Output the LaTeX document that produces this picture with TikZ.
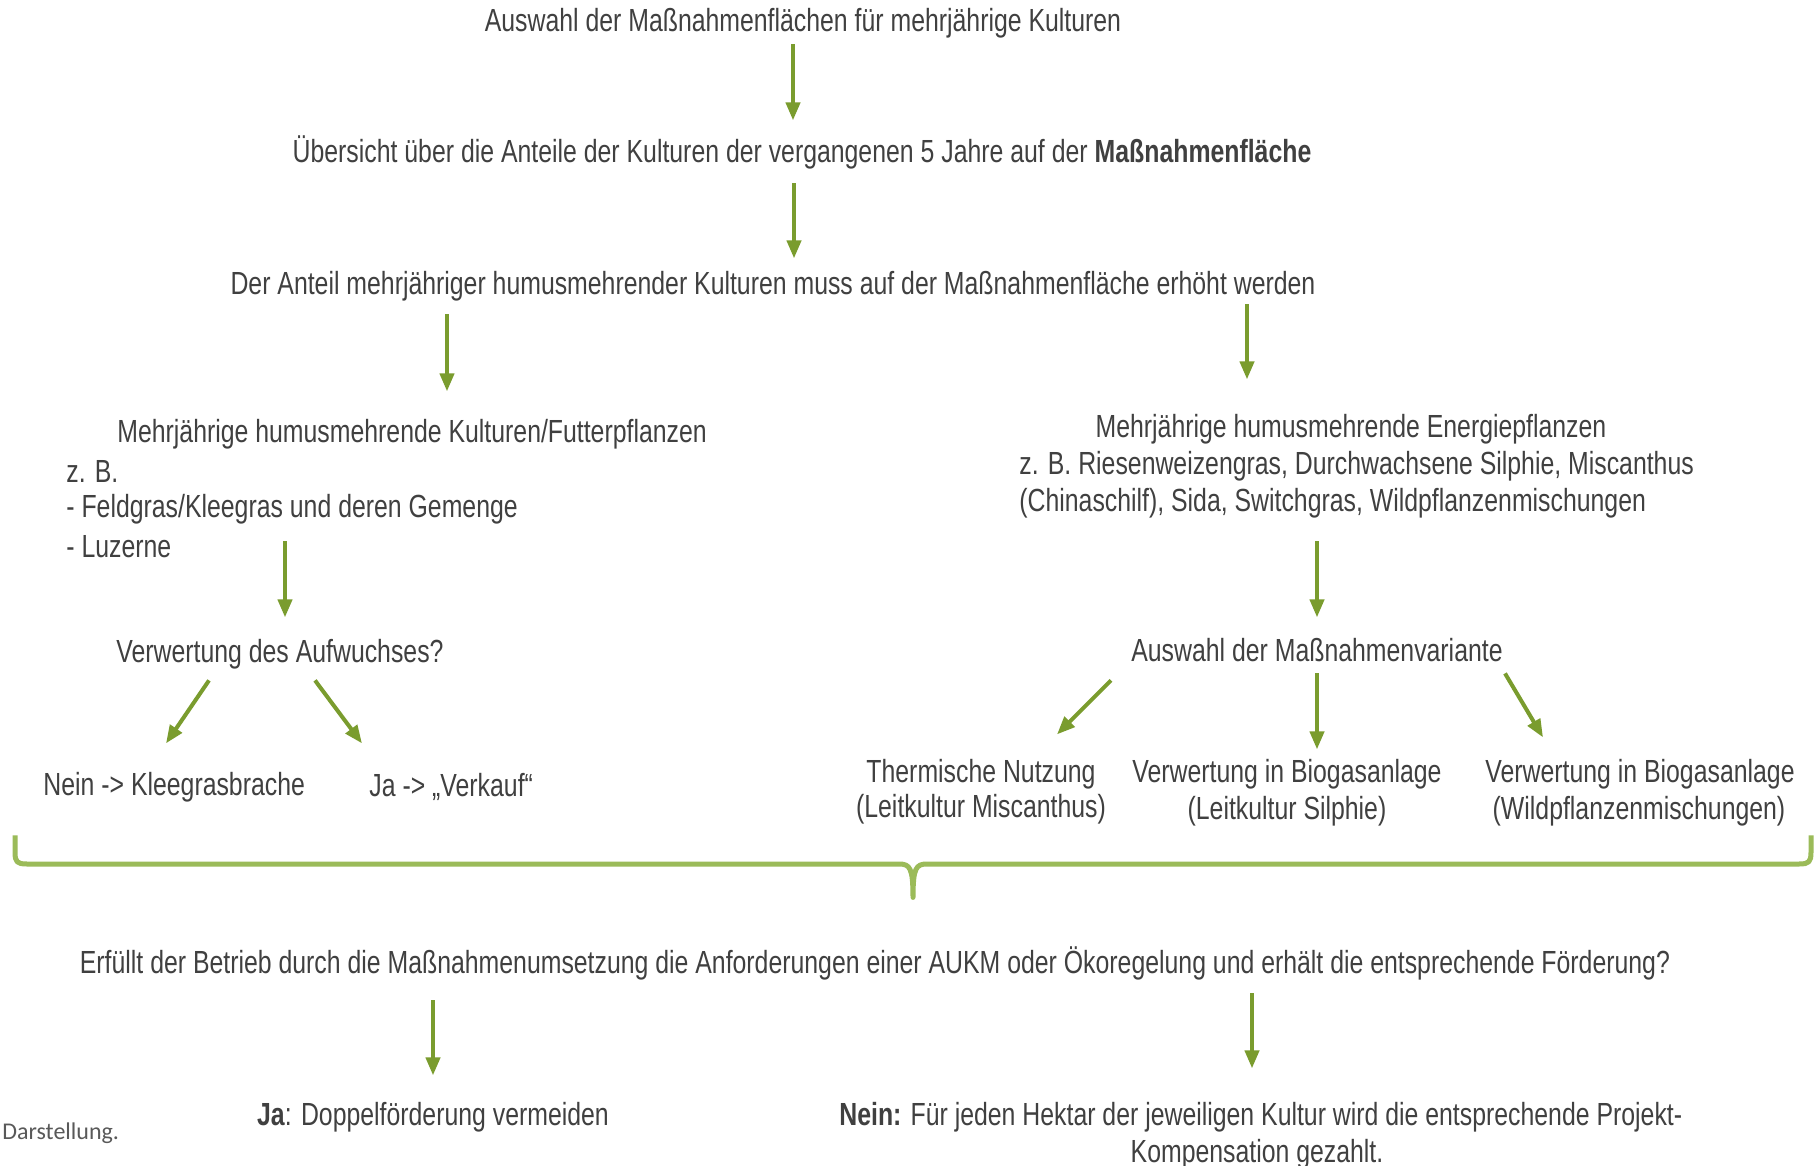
\documentclass[tikz,border=0pt]{standalone}
\usepackage{fontspec}
\setmainfont[FakeStretch=0.776]{Liberation Sans}
\newfontfamily\calfont{Carlito}
\usetikzlibrary{arrows.meta}
\definecolor{txt}{HTML}{404040}
\definecolor{arr}{HTML}{7A9C2E}
\definecolor{brc}{HTML}{9BBB59}
\definecolor{src}{HTML}{595959}
\begin{document}
\begin{tikzpicture}[x=0.5pt,y=-0.5pt,
  every node/.style={text=txt,font=\fontsize{16}{19}\selectfont,inner sep=0pt,yshift=-1.2pt},
  lab/.style={},
  labw/.style={anchor=west},
  flow/.style={draw=arr,line width=2pt,-{Triangle[width=7pt,length=9pt]}},
  bracestyle/.style={draw=brc,line width=2.5pt,line join=round}]
\useasboundingbox (0,0) rectangle (1815,1166);
\fill[white] (0,0) rectangle (1815,1166);

% texts
\node[lab] (t1) at (803,21) {Auswahl der Maßnahmenflächen für mehrjährige Kulturen};
\node[lab] (t2) at (802,150) {Übersicht über die Anteile der Kulturen der vergangenen 5 Jahre auf der \textbf{Maßnahmenfläche}};
\node[lab] (t3) at (773,284) {Der Anteil mehrjähriger humusmehrender Kulturen muss auf der Maßnahmenfläche erhöht werden};

\node[labw] (l1) at (117,432) {Mehrjährige humusmehrende Kulturen/Futterpflanzen};
\node[labw] (l2) at (66,469) {z. B.};
\node[labw] (l3) at (66,507) {- Feldgras/Kleegras und deren Gemenge};
\node[labw] (l4) at (66,544) {- Luzerne};
\node[labw] (q1) at (116,652) {Verwertung des Aufwuchses?};
\node[labw] (nein1) at (43,785) {Nein -> Kleegrasbrache};
\node[labw] (ja1) at (369,785) {Ja -> „Verkauf“};

\node[lab] (r1) at (1351,427) {Mehrjährige humusmehrende Energiepflanzen};
\node[labw] (r2) at (1019,464) {z. B. Riesenweizengras, Durchwachsene Silphie, Miscanthus};
\node[labw] (r3) at (1019,501) {(Chinaschilf), Sida, Switchgras, Wildpflanzenmischungen};
\node[lab] (q2) at (1317,648) {Auswahl der Maßnahmenvariante};
\node[lab] (v1a) at (981,772) {Thermische Nutzung};
\node[lab] (v1b) at (981,807) {(Leitkultur Miscanthus)};
\node[lab] (v2a) at (1287,772) {Verwertung in Biogasanlage};
\node[lab] (v2b) at (1287,809) {(Leitkultur Silphie)};
\node[lab] (v3a) at (1640,772) {Verwertung in Biogasanlage};
\node[lab] (v3b) at (1639,809) {(Wildpflanzenmischungen)};

\node[lab] (q3) at (875,961) {Erfüllt der Betrieb durch die Maßnahmenumsetzung die Anforderungen einer AUKM oder Ökoregelung und erhält die entsprechende Förderung?};
\node[lab] (ja2) at (433,1115) {\textbf{Ja}: Doppelförderung vermeiden};
\node[labw] (nein2a) at (839,1115) {\textbf{Nein:} Für jeden Hektar der jeweiligen Kultur wird die entsprechende Projekt-};
\node[lab] (nein2b) at (1257,1152) {Kompensation gezahlt.};
\node[labw,text=src,font=\calfont\fontsize{12}{14}\selectfont] (srcnote) at (2,1131) {Darstellung.};

% arrow coordinates
\coordinate (a1s) at (793,42);   \coordinate (a1e) at (793,118);
\coordinate (a2s) at (794,181);  \coordinate (a2e) at (794,256);
\coordinate (a3s) at (447,312);  \coordinate (a3e) at (447,389);
\coordinate (a4s) at (1247,302); \coordinate (a4e) at (1247,377);
\coordinate (a5s) at (285,539);  \coordinate (a5e) at (285,615);
\coordinate (a6s) at (209,678);  \coordinate (a6e) at (166,741);
\coordinate (a7s) at (315,678);  \coordinate (a7e) at (362,741);
\coordinate (a8s) at (1317,539); \coordinate (a8e) at (1317,615);
\coordinate (a9s) at (1111,678); \coordinate (a9e) at (1057,732);
\coordinate (a10s) at (1317,671); \coordinate (a10e) at (1317,747);
\coordinate (a11s) at (1505,671); \coordinate (a11e) at (1543,735);
\coordinate (a12s) at (433,998); \coordinate (a12e) at (433,1073);
\coordinate (a13s) at (1252,991); \coordinate (a13e) at (1252,1066);

\foreach \i in {1,...,13} {\draw[flow] (a\i s) -- (a\i e);}

% brace
\coordinate (bl) at (15,833);
\coordinate (bm) at (913,895);
\coordinate (br) at (1811,833);
\draw[bracestyle] (bl) -- (15,852) .. controls (15,862) and (17,864) .. (27,864)
  -- (899,864) .. controls (910,864) and (913,868) .. (bm)
  .. controls (913,868) and (916,864) .. (927,864)
  -- (1799,864) .. controls (1809,864) and (1811,862) .. (1811,852) -- (br);
\end{tikzpicture}
\end{document}
